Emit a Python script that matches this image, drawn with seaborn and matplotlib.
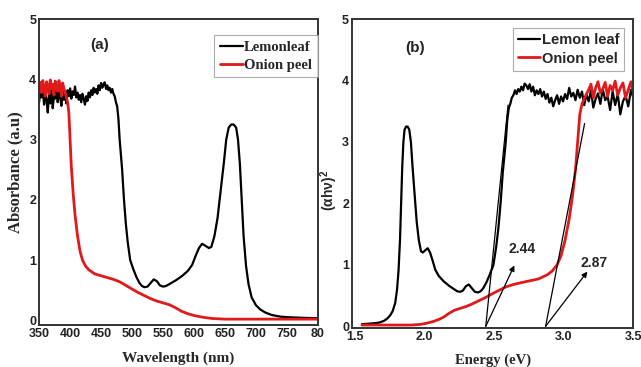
import numpy as np
import pandas as pd
import matplotlib
matplotlib.use("Agg")
import matplotlib.pyplot as plt
import seaborn as sns

# ---------------- data ----------------
# Lemon leaf absorbance: noisy plateau 350-474 nm (2 nm steps), then smooth part
lemon_noisy_wl = list(range(350, 476, 2))
lemon_noisy_abs = [3.62, 3.80, 3.70, 3.85, 3.58, 3.75, 3.66, 3.45, 3.78, 3.60,
                   3.82, 3.52, 3.74, 3.68, 3.86, 3.62, 3.79, 3.70, 3.56, 3.84,
                   3.66, 3.77, 3.60, 3.82, 3.72, 3.85, 3.68, 3.80, 3.74, 3.88,
                   3.70, 3.78, 3.66, 3.74, 3.62, 3.76, 3.68, 3.58, 3.72, 3.64,
                   3.78, 3.70, 3.82, 3.74, 3.86, 3.78, 3.84, 3.76, 3.90, 3.82,
                   3.94, 3.86, 3.92, 3.95, 3.84, 3.90, 3.82, 3.86, 3.78, 3.84,
                   3.76, 3.72, 3.62]
lemon_smooth_wl = [476, 478, 480, 484, 487, 490, 493, 497, 502, 507, 512, 516,
                   520, 525, 530, 535, 540, 545, 550, 555, 560, 570, 580, 590,
                   597, 603, 608, 613, 618, 624, 628, 633, 638, 643, 648, 652,
                   656, 660, 664, 668, 671, 674, 677, 680, 684, 688, 693, 700,
                   707, 715, 725, 740, 755, 780, 800]
lemon_smooth_abs = [3.55, 3.35, 3.00, 2.50, 2.00, 1.60, 1.30, 1.00, 0.85, 0.72,
                    0.62, 0.57, 0.55, 0.56, 0.62, 0.68, 0.65, 0.58, 0.56, 0.57,
                    0.60, 0.66, 0.73, 0.82, 0.92, 1.08, 1.20, 1.27, 1.24, 1.20,
                    1.22, 1.40, 1.70, 2.15, 2.60, 3.00, 3.20, 3.25, 3.25, 3.20,
                    3.00, 2.60, 2.00, 1.40, 0.90, 0.60, 0.38, 0.25, 0.18, 0.13,
                    0.09, 0.06, 0.05, 0.04, 0.035]

# Onion peel absorbance: noisy plateau 350-396 nm, then smooth part
onion_noisy_wl = list(range(350, 398, 2))
onion_noisy_abs = [3.82, 3.95, 3.78, 3.98, 3.85, 3.72, 3.96, 3.88, 3.76, 3.99,
                   3.84, 3.92, 3.74, 3.97, 3.86, 3.80, 3.98, 3.88, 3.72, 3.94,
                   3.85, 3.78, 3.70, 3.62]
onion_smooth_wl = [398, 400, 402, 405, 408, 412, 416, 420, 425, 430, 440, 450,
                   460, 470, 480, 490, 500, 510, 520, 530, 540, 550, 560, 570,
                   580, 590, 600, 615, 630, 650, 700, 750, 800]
onion_smooth_abs = [3.45, 3.00, 2.55, 2.10, 1.75, 1.40, 1.15, 1.00, 0.90, 0.84,
                    0.77, 0.74, 0.71, 0.68, 0.64, 0.58, 0.52, 0.46, 0.41, 0.36,
                    0.32, 0.29, 0.26, 0.21, 0.15, 0.11, 0.08, 0.05, 0.03, 0.02,
                    0.02, 0.02, 0.02]

# Tauc construction: band-gap intercepts and tangent end points
gap_values = [2.44, 2.87]
tangent_end_x = [2.60, 3.15]
tangent_end_y = [3.6, 3.3]
arrow_tip_x = [2.645, 3.17]
arrow_tip_y = [0.99, 0.89]
label_x = [2.70, 3.215]
label_y = [1.25, 1.03]

# ---------------- assemble ----------------
lemon_wl = np.array(lemon_noisy_wl + lemon_smooth_wl, dtype=float)
lemon_abs = np.array(lemon_noisy_abs + lemon_smooth_abs)
onion_wl = np.array(onion_noisy_wl + onion_smooth_wl, dtype=float)
onion_abs = np.array(onion_noisy_abs + onion_smooth_abs)

df_lemon = pd.DataFrame({"wl": lemon_wl, "A": lemon_abs, "E": 1240.0 / lemon_wl})
df_onion = pd.DataFrame({"wl": onion_wl, "A": onion_abs, "E": 1240.0 / onion_wl})

sns.set_theme(style="white")
plt.rcParams["font.family"] = ["Liberation Sans Narrow", "Liberation Sans", "DejaVu Sans"]

fig = plt.figure(figsize=(6.41, 3.67), dpi=100)
ax1 = fig.add_axes([0.061, 0.114, 0.435, 0.834])
ax2 = fig.add_axes([0.549, 0.106, 0.439, 0.842])

serif = ["Liberation Serif", "DejaVu Serif"]
sans_bold = ["Liberation Sans", "DejaVu Sans"]
narrow = ["Liberation Sans Narrow", "Liberation Sans", "DejaVu Sans"]

# ---- panel (a) ----
sns.lineplot(data=df_lemon, x="wl", y="A", ax=ax1, color="black", lw=1.6,
             estimator=None, label="Lemonleaf")
sns.lineplot(data=df_onion, x="wl", y="A", ax=ax1, color="#e0191b", lw=2.0,
             estimator=None, label="Onion peel")
ax1.set_xlim(350, 800)
ax1.set_ylim(-0.08, 5)
ax1.set_xticks([350, 400, 450, 500, 550, 600, 650, 700, 750, 800])
ax1.set_xticklabels(["350", "400", "450", "500", "550", "600", "650", "700", "750", "80"])
ax1.set_yticks([0, 1, 2, 3, 4, 5])
ax1.set_xlabel("Wavelength (nm)", family=serif, fontweight="bold", fontsize=11, labelpad=8)
ax1.set_ylabel("Absorbance (a.u)", family=serif, fontweight="bold", fontsize=12, labelpad=4)
ax1.text(448, 4.57, "(a)", family=sans_bold, fontweight="bold", fontsize=11,
         ha="center", va="center")
leg1 = ax1.legend(loc="upper right", bbox_to_anchor=(1.0, 0.948), frameon=True,
                  fancybox=False, edgecolor="#999999", borderpad=0.4,
                  handlelength=1.6, handletextpad=0.05, labelspacing=0.3,
                  borderaxespad=0.0,
                  prop={"family": serif, "weight": "bold", "size": 10.5})
leg1.get_frame().set_linewidth(0.8)

# ---- panel (b) ----
sns.lineplot(data=df_lemon, x="E", y="A", ax=ax2, color="black", lw=1.6,
             estimator=None, label="Lemon leaf")
sns.lineplot(data=df_onion, x="E", y="A", ax=ax2, color="#e0191b", lw=2.0,
             estimator=None, label="Onion peel")
for g, tx, ty, ax_, ay_, lx, ly in zip(gap_values, tangent_end_x, tangent_end_y,
                                       arrow_tip_x, arrow_tip_y, label_x, label_y):
    ax2.plot([g, tx], [0, ty], color="black", lw=0.9)
    ax2.annotate("", xy=(ax_, ay_), xytext=(g, 0),
                 arrowprops=dict(arrowstyle="-|>", color="black", lw=0.9,
                                 mutation_scale=8, shrinkA=0, shrinkB=0))
    ax2.text(lx, ly, f"{g:.2f}", family=narrow, fontweight="bold", fontsize=10,
             ha="center", va="center")
ax2.set_xlim(1.478, 3.5)
ax2.set_ylim(-0.03, 5)
ax2.set_xticks([1.5, 2.0, 2.5, 3.0, 3.5])
ax2.set_xticklabels(["1.5", "2.0", "2.5", "3.0", "3.5"])
ax2.set_yticks([0, 1, 2, 3, 4, 5])
ax2.set_xlabel("Energy (eV)", family=serif, fontweight="bold", fontsize=10.5, labelpad=8)
ax2.set_ylabel("(αhν)$^{\\mathregular{2}}$", family=sans_bold, fontweight="bold",
               fontsize=10, labelpad=2)
ax2.yaxis.set_label_coords(-0.042, 0.447)
ax2.text(1.93, 4.53, "(b)", family=sans_bold, fontweight="bold", fontsize=11,
         ha="center", va="center")
leg2 = ax2.legend(loc="upper right", bbox_to_anchor=(0.968, 0.971), frameon=True,
                  fancybox=False, edgecolor="#999999", borderpad=0.35,
                  handlelength=1.5, handletextpad=0.1, labelspacing=0.3,
                  borderaxespad=0.0,
                  prop={"family": narrow, "weight": "bold", "size": 10.5})
leg2.get_frame().set_linewidth(0.8)

for ax in (ax1, ax2):
    for s in ax.spines.values():
        s.set_color("#333333")
        s.set_linewidth(1.4)
    ax.tick_params(axis="both", which="major", length=0, pad=2, colors="#222222",
                   labelsize=9)
    for lab in ax.get_xticklabels() + ax.get_yticklabels():
        lab.set_family(narrow)
        lab.set_fontweight("bold")
    ax.grid(False)

fig.savefig("out.png", dpi=100, facecolor="white")
